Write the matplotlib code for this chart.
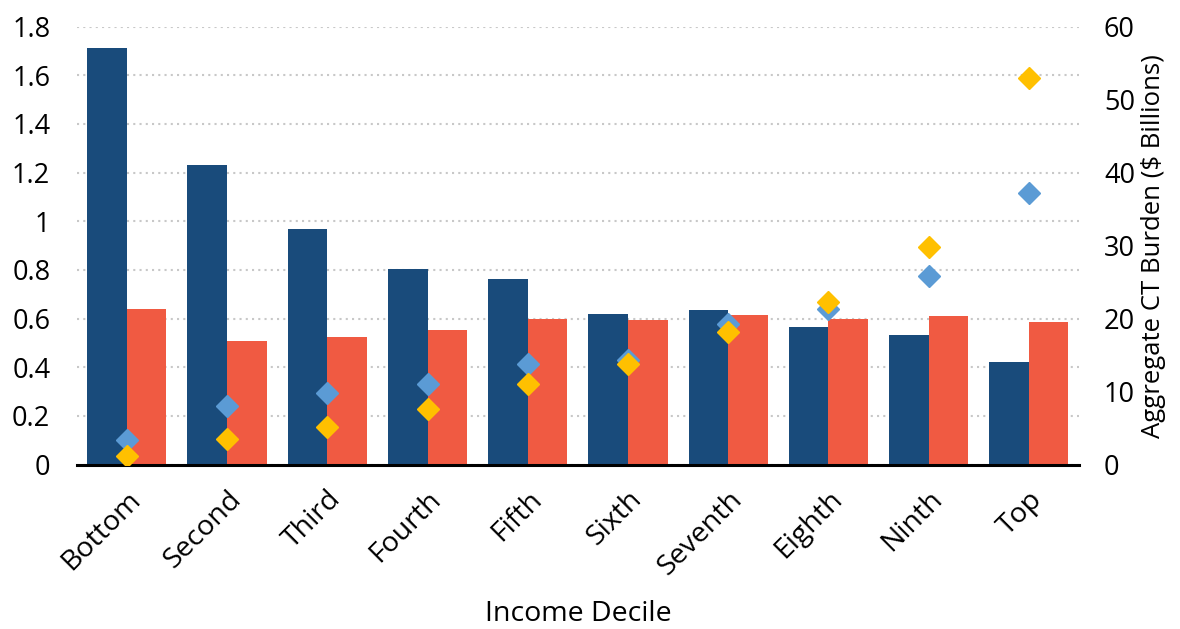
import numpy as np
import matplotlib.pyplot as plt

plt.rcParams['font.family'] = ['Open Sans', 'DejaVu Sans']

# Data
deciles = ['Bottom', 'Second', 'Third', 'Fourth', 'Fifth',
           'Sixth', 'Seventh', 'Eighth', 'Ninth', 'Top']
navy_bars = [1.714, 1.230, 0.967, 0.804, 0.761, 0.620, 0.634, 0.567, 0.531, 0.420]
red_bars = [0.641, 0.509, 0.524, 0.552, 0.598, 0.593, 0.613, 0.598, 0.609, 0.587]
blue_burden = [3.3, 8.0, 9.8, 11.1, 13.8, 14.3, 19.2, 21.3, 25.9, 37.2]
yellow_burden = [1.2, 3.5, 5.2, 7.6, 11.0, 13.8, 18.1, 22.3, 29.8, 53.0]

navy = '#194B7B'
red = '#F05A42'
blue = '#5B9BD5'
yellow = '#FFC000'

fig = plt.figure(figsize=(11.8, 6.29), dpi=100)
ax = fig.add_axes([0.065, 0.2615, 0.8494, 0.6961])

x = np.arange(len(deciles))
width = 0.395
ax.bar(x - width / 2, navy_bars, width, color=navy, zorder=2)
ax.bar(x + width / 2, red_bars, width, color=red, zorder=2)

ax.set_xlim(-0.5, len(deciles) - 0.5)
ax.set_ylim(0, 1.8)
ax.set_yticks(np.arange(0, 1.81, 0.2))
ax.set_yticklabels(['0', '0.2', '0.4', '0.6', '0.8', '1', '1.2', '1.4', '1.6', '1.8'])
ax.yaxis.grid(True, color='#C8C8C8', linestyle=(0, (1, 2)), linewidth=1.5, zorder=0)
ax.set_axisbelow(True)

for s in ['top', 'right', 'left']:
    ax.spines[s].set_visible(False)
ax.spines['bottom'].set_linewidth(2.2)
ax.spines['bottom'].set_color('black')
ax.spines['bottom'].set_zorder(5)

ax.set_xticks(x)
ax.set_xticklabels(deciles, rotation=45, ha='right', rotation_mode='anchor')
ax.tick_params(axis='both', length=0, colors='black')
ax.tick_params(axis='x', labelsize=20.5, pad=15)
ax.tick_params(axis='y', labelsize=19.5, pad=19)
ax.set_xlabel('Income Decile', fontsize=20.5, labelpad=14)

ax2 = ax.twinx()
ax2.set_ylim(0, 60)
ax2.set_yticks(np.arange(0, 61, 10))
ax2.plot(x, blue_burden, 'D', color=blue, markersize=11, linestyle='none', zorder=3)
ax2.plot(x, yellow_burden, 'D', color=yellow, markersize=11, linestyle='none', zorder=4)
for s in ax2.spines.values():
    s.set_visible(False)
ax2.tick_params(axis='y', length=0, labelsize=19.5, pad=18)
ax2.set_ylabel('Aggregate CT Burden ($ Billions)', fontsize=18.5, labelpad=4)

fig.savefig('out.png', dpi=100)
